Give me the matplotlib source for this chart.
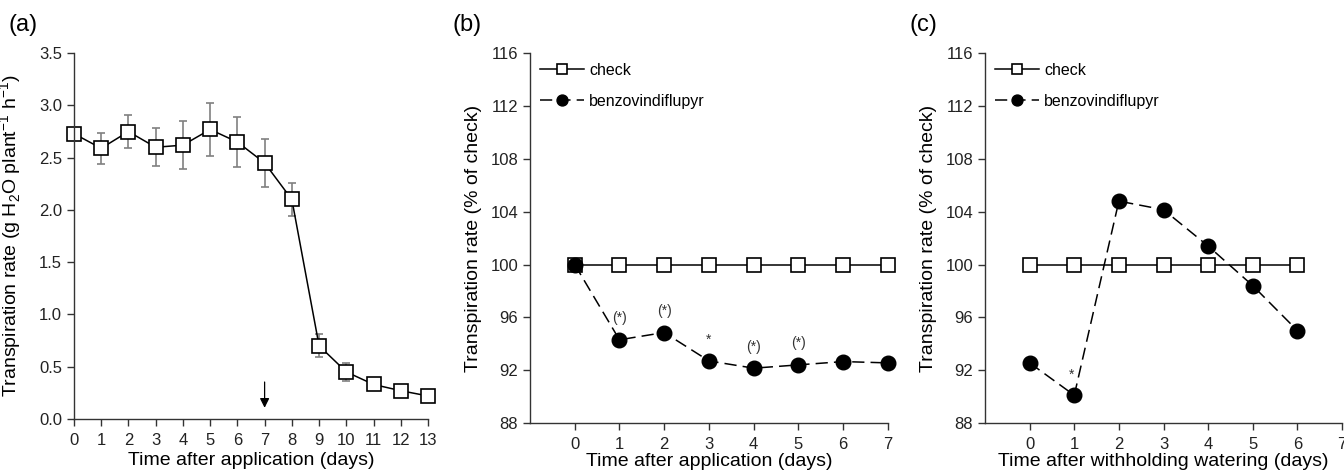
import matplotlib.pyplot as plt

plt.rcParams['font.family'] = ['Liberation Sans', 'DejaVu Sans']

# panel (a): absolute transpiration rate
days_a = [0, 1, 2, 3, 4, 5, 6, 7, 8, 9, 10, 11, 12, 13]
rate_a = [2.73, 2.59, 2.75, 2.60, 2.62, 2.77, 2.65, 2.45, 2.10, 0.70, 0.45, 0.33, 0.27, 0.22]
err_a = [0.05, 0.15, 0.16, 0.18, 0.23, 0.25, 0.24, 0.23, 0.16, 0.11, 0.09, 0.03, 0.02, 0.02]

# panel (b): after application, % of check
days_b = [0, 1, 2, 3, 4, 5, 6, 7]
check_b = [100, 100, 100, 100, 100, 100, 100, 100]
benzo_b = [100, 94.3, 94.85, 92.7, 92.15, 92.4, 92.65, 92.55]
sig_b = ['', '(*)', '(*)', '*', '(*)', '(*)', '', '']

# panel (c): after withholding watering, % of check
days_c = [0, 1, 2, 3, 4, 5, 6]
check_c = [100, 100, 100, 100, 100, 100, 100]
benzo_c = [92.55, 90.1, 104.8, 104.15, 101.4, 98.4, 95.0]
sig_c = ['', '*', '', '', '', '', '']

fig = plt.figure(figsize=(13.44, 4.75), dpi=100)
ax_a = fig.add_axes([0.055, 0.118, 0.2635, 0.770])
ax_b = fig.add_axes([0.3943, 0.1095, 0.2664, 0.7785])
ax_c = fig.add_axes([0.7329, 0.1095, 0.2656, 0.7785])

sq = dict(marker='s', markersize=9.5, markerfacecolor='white', markeredgecolor='black',
          markeredgewidth=1.2, color='black', linewidth=1.1, clip_on=False)
dot = dict(marker='o', markersize=10.5, markerfacecolor='black', markeredgecolor='black',
           color='black', linewidth=1.1, dashes=(8, 4), clip_on=False)

for ax in (ax_a, ax_b, ax_c):
    for s in ('top', 'right'):
        ax.spines[s].set_visible(False)
    for s in ('left', 'bottom'):
        ax.spines[s].set_color('#333333')
        ax.spines[s].set_linewidth(1.0)
    ax.tick_params(direction='out', length=5, width=1.0, color='#333333',
                   labelsize=12, labelcolor='#222222')
    ax.tick_params(axis='x', pad=5)

# (a)
ax_a.errorbar(days_a, rate_a, yerr=err_a, fmt='none', ecolor='#808080',
              elinewidth=1.2, capsize=3, capthick=1.2, zorder=1)
ax_a.plot(days_a, rate_a, zorder=2, **sq)
ax_a.set_xlim(0, 13)
ax_a.set_ylim(0, 3.5)
ax_a.set_xticks(days_a)
ax_a.set_yticks([0, 0.5, 1.0, 1.5, 2.0, 2.5, 3.0, 3.5])
ax_a.yaxis.set_major_formatter(plt.FormatStrFormatter('%.1f'))
ax_a.annotate('', xy=(7, 0.08), xytext=(7, 0.38),
              arrowprops=dict(arrowstyle='-|>', color='black', lw=0.9, mutation_scale=14))
ax_a.set_xlabel('Time after application (days)', fontsize=14, labelpad=3)
ax_a.set_ylabel(r'Transpiration rate (g H$_\mathregular{2}$O plant$^\mathregular{-1}$ h$^\mathregular{-1}$)',
                fontsize=14)
ax_a.yaxis.set_label_coords(-0.14, 0.5)

# (b)
ax_b.plot(days_b, check_b, label='check', zorder=2, **sq)
ax_b.plot(days_b, benzo_b, label='benzovindiflupyr', zorder=3, **dot)
for x, y, s in zip(days_b, benzo_b, sig_b):
    if s:
        ax_b.text(x, y + 1.1, s, ha='center', va='bottom', fontsize=10, color='#333333')
ax_b.set_xlim(-1, 7)
ax_b.set_xticks(days_b)
ax_b.set_xlabel('Time after application (days)', fontsize=14, labelpad=1)

# (c)
ax_c.plot(days_c, check_c, label='check', zorder=2, **sq)
ax_c.plot(days_c, benzo_c, label='benzovindiflupyr', zorder=3, **dot)
for x, y, s in zip(days_c, benzo_c, sig_c):
    if s:
        ax_c.text(x - 0.06, y + 1.0, s, ha='center', va='bottom', fontsize=10, color='#333333')
ax_c.set_xlim(-1, 7)
ax_c.set_xticks([0, 1, 2, 3, 4, 5, 6, 7])
ax_c.set_xlabel('Time after withholding watering (days)', fontsize=14, labelpad=1)

for ax in (ax_b, ax_c):
    ax.set_ylim(88, 116)
    ax.set_yticks([88, 92, 96, 100, 104, 108, 112, 116])
    ax.set_ylabel('Transpiration rate (% of check)', fontsize=14)
    ax.yaxis.set_label_coords(-0.135, 0.5)
    leg = ax.legend(loc='upper left', frameon=False, fontsize=11.5, handlelength=2.8,
                    handletextpad=0.3, labelspacing=1.0, borderaxespad=0.2,
                    bbox_to_anchor=(0.0, 1.0), markerscale=0.75)

fig.text(0.006, 0.97, '(a)', fontsize=17, va='top')
fig.text(0.337, 0.97, '(b)', fontsize=17, va='top')
fig.text(0.677, 0.97, '(c)', fontsize=17, va='top')

fig.savefig('out.png', dpi=100)
